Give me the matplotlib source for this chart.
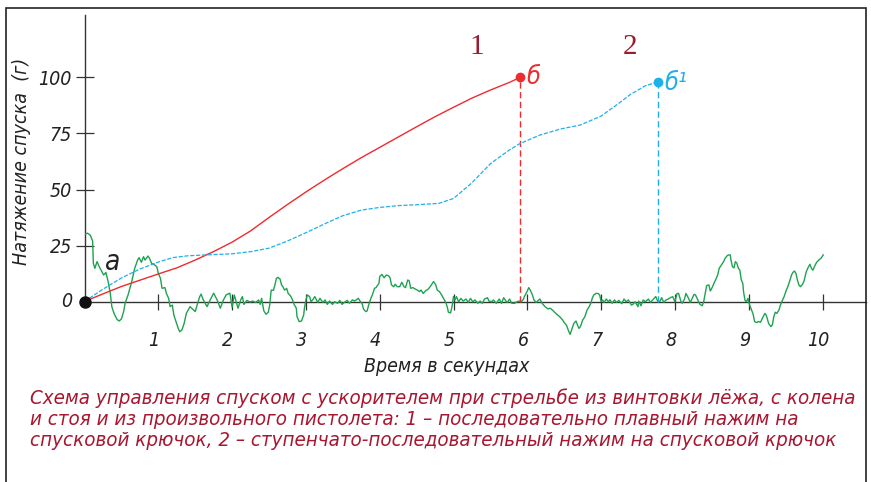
import matplotlib
matplotlib.use("Agg")
import matplotlib.pyplot as plt
from matplotlib.patches import Rectangle
from matplotlib import font_manager
import matplotlib.transforms as mtrans

# ---------------- data ----------------
x_ticks = [1, 2, 3, 4, 5, 6, 7, 8, 9, 10]
y_ticks = [25, 50, 75, 100]
y_tick_labels = ["25", "50", "75", "100"]

red_t = [0, 0.25, 0.5, 0.75, 1.0, 1.25, 1.5, 1.75, 2.0, 2.25, 2.5, 2.75, 3.0, 3.25,
         3.5, 3.75, 4.0, 4.25, 4.5, 4.75, 5.0, 5.25, 5.5, 5.75, 5.9]
red_v = [0, 3.4, 6.7, 9.5, 12.3, 15.0, 18.5, 22.3, 26.5, 31.5, 37.5, 43.3, 48.9, 54.2,
         59.3, 64.2, 68.8, 73.4, 78.0, 82.5, 86.7, 90.8, 94.4, 97.7, 100]

blue_t = [0, 0.25, 0.5, 0.75, 1.0, 1.2, 1.4, 1.65, 2.0, 2.26, 2.5, 2.75, 3.0, 3.25,
          3.5, 3.75, 4.0, 4.25, 4.5, 4.8, 5.0, 5.25, 5.5, 5.75, 5.9, 6.17, 6.45, 6.72,
          7.0, 7.2, 7.4, 7.6, 7.77]
blue_v = [0, 5.5, 10.5, 14.5, 17.6, 19.6, 20.4, 20.8, 21.3, 22.3, 23.8, 27.0, 30.7, 34.6,
          38.3, 40.8, 42.0, 42.8, 43.2, 43.8, 46.0, 53.0, 61.5, 67.5, 70.5, 74.3, 77.0, 78.8,
          82.8, 87.5, 92.5, 96.3, 98.0]

green_t = [0.00, 0.04, 0.08, 0.11, 0.12, 0.14, 0.17, 0.20, 0.23, 0.26, 0.29, 0.32, 0.35, 0.37,
           0.40, 0.44, 0.47, 0.50, 0.53, 0.55, 0.59, 0.64, 0.68, 0.72, 0.74, 0.77, 0.80, 0.82,
           0.86, 0.88, 0.91, 0.94, 0.98, 1.00, 1.03, 1.05, 1.09, 1.11, 1.14, 1.16, 1.19, 1.21,
           1.24, 1.27, 1.29, 1.32, 1.35, 1.38, 1.43, 1.50, 1.56, 1.58, 1.61, 1.66, 1.70, 1.75,
           1.80, 1.84, 1.88, 1.92, 1.97, 2.00, 2.03, 2.08, 2.12, 2.14, 2.16, 2.20, 2.24, 2.28,
           2.32, 2.36, 2.38, 2.40, 2.43, 2.46, 2.49, 2.51, 2.53, 2.56, 2.58, 2.60, 2.62, 2.65,
           2.67, 2.69, 2.71, 2.74, 2.76, 2.79, 2.81, 2.84, 2.87, 2.88, 2.91, 2.94, 2.97, 2.98,
           3.00, 3.02, 3.05, 3.07, 3.10, 3.12, 3.16, 3.19, 3.23, 3.26, 3.29, 3.32, 3.36, 3.39,
           3.43, 3.46, 3.49, 3.52, 3.56, 3.59, 3.63, 3.66, 3.71, 3.74, 3.76, 3.78, 3.81, 3.83,
           3.85, 3.88, 3.90, 3.93, 3.95, 3.99, 4.00, 4.03, 4.06, 4.09, 4.12, 4.14, 4.16, 4.19,
           4.21, 4.24, 4.27, 4.30, 4.33, 4.35, 4.38, 4.40, 4.42, 4.45, 4.48, 4.51, 4.54, 4.56,
           4.59, 4.62, 4.66, 4.70, 4.73, 4.76, 4.78, 4.81, 4.84, 4.87, 4.90, 4.92, 4.93, 4.96,
           4.98, 5.00, 5.02, 5.04, 5.07, 5.10, 5.13, 5.17, 5.20, 5.23, 5.26, 5.29, 5.33, 5.36,
           5.39, 5.42, 5.46, 5.48, 5.52, 5.54, 5.58, 5.62, 5.65, 5.68, 5.71, 5.73, 5.76, 5.79,
           5.83, 5.86, 5.89, 5.92, 5.95, 5.96, 5.99, 6.02, 6.04, 6.07, 6.09, 6.12, 6.14, 6.17,
           6.20, 6.24, 6.28, 6.31, 6.34, 6.37, 6.41, 6.44, 6.48, 6.50, 6.53, 6.56, 6.58, 6.60,
           6.63, 6.66, 6.68, 6.70, 6.72, 6.75, 6.78, 6.81, 6.83, 6.86, 6.88, 6.90, 6.93, 6.96,
           6.98, 7.00, 7.02, 7.04, 7.07, 7.10, 7.12, 7.15, 7.18, 7.21, 7.24, 7.28, 7.31, 7.34,
           7.37, 7.41, 7.43, 7.46, 7.50, 7.51, 7.54, 7.57, 7.60, 7.64, 7.67, 7.71, 7.74, 7.77,
           7.80, 7.82, 7.85, 7.88, 7.91, 7.94, 7.97, 8.00, 8.03, 8.05, 8.08, 8.10, 8.13, 8.15,
           8.18, 8.21, 8.23, 8.26, 8.28, 8.31, 8.34, 8.37, 8.39, 8.41, 8.43, 8.46, 8.48, 8.50,
           8.53, 8.56, 8.58, 8.60, 8.63, 8.66, 8.68, 8.71, 8.73, 8.75, 8.76, 8.78, 8.80, 8.82,
           8.84, 8.86, 8.88, 8.89, 8.90, 8.92, 8.93, 8.95, 8.97, 8.99, 9.01, 9.03, 9.06, 9.08,
           9.11, 9.13, 9.16, 9.19, 9.22, 9.24, 9.27, 9.30, 9.32, 9.34, 9.36, 9.38, 9.41, 9.43,
           9.45, 9.48, 9.51, 9.53, 9.56, 9.58, 9.60, 9.62, 9.64, 9.66, 9.68, 9.70, 9.73, 9.75,
           9.76, 9.78, 9.81, 9.83, 9.85, 9.87, 9.89, 9.92, 9.95, 9.98, 10.01]
green_v = [30, 30.5, 29.5, 27, 17, 14.8, 17.8, 15.5, 13.6, 11.8, 13, 8.9, 3.6, -2.3,
           -5.3, -8, -8.7, -7.8, -4.5, -0.8, 2.9, 8.9, 14.8, 18.5, 19.6, 17.5, 20, 18.5,
           20.3, 19.3, 17, 16.6, 15.5, 12.6, 10.3, 5.9, 6.2, 3.6, 1.4, -2.3, -1.6, -6,
           -9, -12, -13.5, -12.7, -9.8, -5.3, -2.3, -4.5, 2.1, 3.3, 0.7, -2.3, 0.5, 3.7,
           0.5, -3, 0.5, 3.0, 3.7, -2.5, 2.9, -3.0, 1.0, 2.2, -1.3, 0.5, -0.2, 0.2,
           -0.4, 0.7, -1.3, 1.4, -4.2, -5.7, -4.8, -1.5, 5.1, 5.0, 7.4, 10.3, 10.8, 10.0,
           7.4, 6.5, 5.1, 5.8, 3.6, 2.6, 1.4, -1.3, -3, -6.8, -9, -8.7, -6, -3,
           0.7, 2.9, 2.2, -0.1, 1.1, 2.2, -0.4, 1.4, -0.4, 0.7, -1.3, 0.2, -1.3, -0.1,
           -0.8, 0.5, -1.3, -0.4, 0.5, -0.8, 0.7, 0.2, 1.4, -0.1, -0.8, -3.3, -4.5, -4.2,
           -1.6, 1.4, 2.9, 5.9, 6.2, 8.1, 11.1, 12.1, 10.6, 11.8, 11.5, 10.6, 7.4, 6.6,
           7.7, 6.6, 6.6, 8.6, 6.6, 6.2, 9.6, 9.2, 5.9, 6.2, 5.6, 5.1, 4.4, 5.1,
           3.6, 4.7, 5.6, 7.4, 8.9, 7.4, 5.1, 4.4, 2.9, 1.1, -0.8, -3, -4.8, -5.1,
           -2.3, 2.2, 0.7, 2.2, -0.1, 1.4, 0.2, 1.1, -0.4, 1.4, -0.1, 0.7, -0.8, 0.2,
           -0.8, 1.1, 1.7, 0.2, -0.1, 0.7, -0.8, 1.1, -0.8, 1.7, 0.2, -0.4, 1.1, -0.8,
           -0.8, -0.1, 0.2, -0.1, 1.1, 2.2, 4.0, 6.2, 5.1, 2.9, 0.7, -0.4, 0.2, 1.1,
           -0.8, -2.3, -3.3, -3.0, -3.8, -4.8, -6, -6.8, -8.3, -9.4, -10.5, -13.2, -14.7, -12.7,
           -9.8, -8.7, -10.5, -12, -11.2, -8.3, -6.8, -3.8, -2.8, -0.8, 1.4, 2.9, 3.6, 3.6,
           2.9, 0, 0.7, -0.4, 1.1, -0.1, 0.8, -0.8, 0.7, -0.4, 0.5, -1.0, 1.1, -0.1,
           0.7, -1.6, -1.3, -0.1, -2.3, 0.2, -1.9, 0.7, -0.1, 1.1, -0.4, 1.1, 2.2, -0.1,
           0.2, 1.7, -0.4, 0.7, 1.1, 1.7, 2.2, -0.1, 3.6, 3.6, 0.2, -0.8, 1.1, 3.6,
           1.7, -0.4, 1.1, 3.2, 2.9, 0.7, -1.3, -1.9, -0.1, 3.6, 7.1, 7.4, 4.7, 5.9,
           8.1, 10.3, 11.8, 14.8, 16.3, 17.8, 19.3, 20.5, 20.8, 20.8, 18.5, 15.5, 15.0, 17.8,
           17.1, 14.8, 14.0, 11.8, 9.6, 8.1, 4.4, 0.5, -0.1, 1.4, -1.3, -3.0, -5.7, -9,
           -9.4, -8.9, -9.3, -7.2, -5.3, -6.3, -9.8, -11.2, -10.5, -6.8, -4.8, -5.3, -3.8, -1.5,
           0, 2.2, 5.1, 6.6, 9.6, 11.8, 13, 13.6, 12.6, 9.6, 7.4, 6.6, 7.7, 9.2,
           10.6, 13.3, 15.5, 16.6, 14.8, 14.0, 15.5, 17.5, 18.5, 19.3, 20.8]

red_end = (5.9, 100)
blue_end = (7.77, 98)

caption_lines = [
    "Схема управления спуском с ускорителем при стрельбе из винтовки лёжа, с колена",
    "и стоя и из произвольного пистолета: 1 – последовательно плавный нажим на",
    "спусковой крючок, 2 – ступенчато-последовательный нажим на спусковой крючок",
]

# ---------------- style ----------------
# look for a condensed sans face (closest to the reference's condensed type)
FAM = ["Liberation Sans", "DejaVu Sans"]
STRETCH = "normal"
for f in font_manager.fontManager.ttflist:
    if f.name == "Liberation Sans Narrow":
        FAM = ["Liberation Sans Narrow", "DejaVu Sans"]
        break
else:
    for f in font_manager.fontManager.ttflist:
        if f.name == "DejaVu Sans" and str(f.stretch) in ("condensed", "semi-condensed", "75", "87"):
            FAM = ["DejaVu Sans"]
            STRETCH = "condensed"
            break

plt.rcParams["font.family"] = FAM
plt.rcParams["font.stretch"] = STRETCH
plt.rcParams["lines.scale_dashes"] = False

W, H = 871, 482
fig = plt.figure(figsize=(W / 100, H / 100), dpi=100)

x0px, xs = 84.5, 73.8
y0px, ys = 301.5, 2.24
top_px, bot_px, right_px = 15, 346, 866
xmin, xmax = 0, (right_px - x0px) / xs
ymax = (y0px - top_px) / ys
ymin = -(bot_px - y0px) / ys
ax = fig.add_axes([x0px / W, 1 - bot_px / H, (right_px - x0px) / W, (bot_px - top_px) / H])
ax.set_xlim(xmin, xmax)
ax.set_ylim(ymin, ymax)
ax.patch.set_alpha(0)

axcol = "#333333"
for s in ["top", "right"]:
    ax.spines[s].set_visible(False)
ax.spines["bottom"].set_position(("data", 0))
ax.spines["left"].set_bounds(0, ymax)
for s in ["bottom", "left"]:
    ax.spines[s].set_color(axcol)
    ax.spines[s].set_linewidth(1.0)

TICKFS = 14
ax.set_xticks(x_ticks)
ax.set_xticklabels([str(v) for v in x_ticks])
ax.set_yticks(y_ticks)
ax.set_yticklabels(y_tick_labels)
ax.tick_params(axis="x", direction="inout", length=11.5, width=0.9, color=axcol,
               pad=15.5, labelsize=TICKFS, labelcolor="#222222")
ax.tick_params(axis="y", direction="inout", length=13, width=0.9, color=axcol,
               pad=2.5, labelsize=TICKFS, labelcolor="#222222")
off = mtrans.ScaledTranslation(-3 / 72, 0, fig.dpi_scale_trans)
for lab in ax.get_xticklabels():
    lab.set_fontstyle("italic")
    lab.set_transform(lab.get_transform() + off)
for lab in ax.get_yticklabels():
    lab.set_fontstyle("italic")

ax.text(-0.17, 0, "0", fontsize=TICKFS, fontstyle="italic", color="#222222",
        ha="right", va="center")

green = "#1fa24f"
red = "#ee2b2f"
blue = "#1fb0ea"
ax.plot(green_t, green_v, color=green, lw=1.0, zorder=3, solid_joinstyle="round")
ax.plot(red_t, red_v, color=red, lw=1.0, zorder=4)
ax.plot(blue_t, blue_v, color=blue, lw=0.9, zorder=4, dashes=(3.0, 1.2))

ax.plot([red_end[0], red_end[0]], [0, red_end[1]], color=red, lw=1.0, dashes=(4.5, 2.5), zorder=3)
ax.plot([blue_end[0], blue_end[0]], [0, blue_end[1]], color=blue, lw=1.0, dashes=(4.5, 2.5), zorder=3)

ax.plot([red_end[0]], [red_end[1]], "o", color=red, ms=6, zorder=5)
ax.plot([blue_end[0]], [blue_end[1]], "o", color=blue, ms=6, zorder=5)
ax.plot([0], [0], "o", color="#111111", ms=8, zorder=6, clip_on=False)

ax.text(0.38, 17.5, "а", fontsize=20, fontstyle="italic", color="#222222",
        ha="center", va="center")
ax.text(red_end[0] + 0.09, red_end[1], "б", fontsize=18, fontstyle="italic", color=red,
        ha="left", va="center")
ax.text(blue_end[0] + 0.09, blue_end[1] - 0.5, "б¹", fontsize=18, fontstyle="italic", color=blue,
        ha="left", va="center")
serif = ["Liberation Serif", "DejaVu Serif"]
ax.text((477 - x0px) / xs, (y0px - 47) / ys, "1", fontsize=21, family=serif,
        color="#9b1b30", ha="center", va="center")
ax.text((630 - x0px) / xs, (y0px - 47) / ys, "2", fontsize=21, family=serif,
        color="#9b1b30", ha="center", va="center")

fig.text(22 / W, 1 - 161 / H, "Натяжение спуска  (г)", rotation=90, fontsize=14,
         fontstyle="italic", color="#222222", ha="center", va="center")
fig.text(447 / W, 1 - 367 / H, "Время в секундах", fontsize=14, fontstyle="italic",
         color="#222222", ha="center", va="center")

# caption: fit first line to the reference width (30 px .. 857 px)
cap_col = "#a8162f"
cap_texts = []
for i, line in enumerate(caption_lines):
    t = fig.text(30 / W, 1 - (398 + 21.5 * i) / H, line, fontsize=16, fontstyle="italic",
                 color=cap_col, ha="left", va="center")
    cap_texts.append(t)
renderer = fig.canvas.get_renderer()
w0 = cap_texts[0].get_window_extent(renderer).width
fs = 16 * (857 - 30) / w0
for t in cap_texts:
    t.set_fontsize(fs)

fig.patches.append(Rectangle((5.5 / W, -0.05), (866 - 5.5) / W, 1.05 - 8.5 / H,
                             transform=fig.transFigure, fill=False,
                             edgecolor="#222222", lw=1.2))

fig.savefig("out.png", dpi=100)
